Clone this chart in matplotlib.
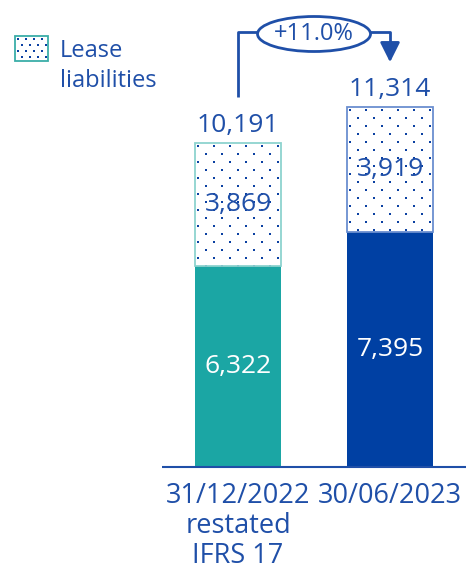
import numpy as np
import matplotlib
matplotlib.use("Agg")
import matplotlib.pyplot as plt
from matplotlib.patches import Ellipse, Rectangle

categories = ["31/12/2022\nrestated\nIFRS 17", "30/06/2023"]
base_vals  = [6322, 7395]
lease_vals = [3869, 3919]
totals     = [10191, 11314]
change_lbl = "+11.0%"
legend_lbl = ["Lease", "liabilities"]

TEXT   = "#1f4fa8"
DOTS   = "#0b40a2"
BASE_C = ["#1ba6a4", "#0040a3"]
EDGE_C = ["#8dd3cf", "#6b8fd0"]

plt.rcParams["font.family"] = ["Open Sans", "DejaVu Sans"]

W, H = 468, 570
fig = plt.figure(figsize=(W / 100, H / 100), dpi=100)
ax = fig.add_axes([0, 0, 1, 1])
X0, X1 = -1.566, 1.513
Y0, Y1 = -3239, 14686
ax.set_xlim(X0, X1)
ax.set_ylim(Y0, Y1)
ax.axis("off")

px_x = (X1 - X0) / W      # data units per pixel
px_y = (Y1 - Y0) / H


def dotted_box(x0, y0, w, h, edge, step_x, step_y):
    """White box filled with a staggered dot texture and a thin outline."""
    rect = Rectangle((x0, y0), w, h, facecolor="white", edgecolor="none")
    ax.add_patch(rect)
    pts_x, pts_y = [], []
    rows = np.arange(y0 + h - 3 * px_y, y0, -step_y)
    for i, yy in enumerate(rows):
        start = x0 + 3 * px_x + (step_x / 2 if i % 2 else 0)
        for xx in np.arange(start, x0 + w, step_x):
            pts_x.append(xx)
            pts_y.append(yy)
    dots = ax.scatter(pts_x, pts_y, s=3.2, marker="s", color=DOTS,
                      linewidths=0, zorder=3)
    dots.set_clip_path(rect)
    ax.add_patch(Rectangle((x0, y0), w, h, fill=False, edgecolor=edge,
                           linewidth=1.3, zorder=4))


x = [0, 1]
w = 0.56

# solid bottom segment
ax.bar(x, base_vals, width=w, color=BASE_C, linewidth=0)
# dotted lease segment
for xi, b, l, ec in zip(x, base_vals, lease_vals, EDGE_C):
    dotted_box(xi - w / 2, b, w, l, ec, 16 * px_x, 8 * px_y)

for xi, b, l, t in zip(x, base_vals, lease_vals, totals):
    ax.text(xi, b / 2, f"{b:,}", ha="center", va="center",
            color="white", fontsize=19, zorder=5)
    ax.text(xi, b + l / 2, f"{l:,}", ha="center", va="center",
            color=TEXT, fontsize=19, zorder=5)
    ax.text(xi, t + 11 * px_y, f"{t:,}", ha="center", va="baseline",
            color=TEXT, fontsize=19)

# baseline
ax.plot([-0.5, 1.5], [0, 0], color=TEXT, lw=1.5, solid_capstyle="butt")

# category labels, one line at a time
for xi, c in zip(x, categories):
    for k, line in enumerate(c.split("\n")):
        ax.text(xi, -(36 + 30 * k) * px_y, line, ha="center",
                va="baseline", color=TEXT, fontsize=19.5)

# growth connector
y_top = Y1 - 32 * px_y
ax.plot([x[0], x[0], 0.13], [totals[0] + 46 * px_y, y_top, y_top],
        color=TEXT, lw=2, solid_capstyle="butt")
ax.plot([0.87, x[1], x[1]], [y_top, y_top, totals[1] + 58 * px_y],
        color=TEXT, lw=2, solid_capstyle="butt")
ax.annotate("", xy=(x[1], totals[1] + 45 * px_y),
            xytext=(x[1], totals[1] + 62 * px_y),
            arrowprops=dict(arrowstyle="-|>,head_length=1.2,head_width=0.6",
                            mutation_scale=10, color=TEXT, lw=2,
                            shrinkA=0, shrinkB=0))
ax.add_patch(Ellipse((0.5, Y1 - 34 * px_y), 113 * px_x, 35 * px_y,
                     facecolor="white", edgecolor=TEXT, lw=2, zorder=5))
ax.text(0.5, Y1 - 34 * px_y, change_lbl, ha="center", va="center",
        color=TEXT, fontsize=17, zorder=6)

# legend
dotted_box(X0 + 15 * px_x, Y1 - 61 * px_y, 33 * px_x, 25 * px_y,
           "#3aaea8", 8 * px_x, 6 * px_y)
for k, line in enumerate(legend_lbl):
    ax.text(X0 + 60 * px_x, Y1 - (57 + 30 * k) * px_y, line, ha="left",
            va="baseline", color=TEXT, fontsize=17)

fig.savefig("out.png", dpi=100)
